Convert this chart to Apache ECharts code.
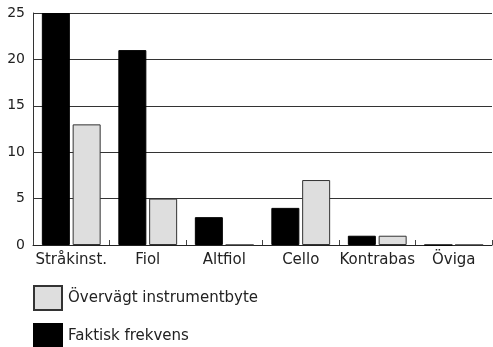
<!DOCTYPE html>
<html>
<head>
<meta charset="utf-8">
<script src="https://cdn.jsdelivr.net/npm/echarts@6/dist/echarts.min.js"></script>
<style>
  html, body { margin: 0; padding: 0; background: #fff; }
  #chart { width: 493px; height: 347px; }
</style>
</head>
<body>
<div id="chart"></div>
<script>
// Instrument groups along the x axis
const categories = ['Stråkinst.', 'Fiol', 'Altfiol', 'Cello', 'Kontrabas', 'Öviga'];
// Actual frequency (black bars)
const faktiskFrekvens = [25, 21, 3, 4, 1, 0];
// Considered switching instrument (light grey bars)
const overvagtByte = [13, 5, 0, 7, 1, 0];
// Value axis ticks
const yTicks = [0, 5, 10, 15, 20, 25];

const FONT = 'DejaVu Sans';
const chart = echarts.init(document.getElementById('chart'), null, { renderer: 'canvas' });

// One legend block per entry, stacked under the plot
const legendBase = {
  left: 33,
  itemWidth: 28,
  itemHeight: 24,
  icon: 'rect',
  padding: 0,
  textStyle: { fontFamily: FONT, fontSize: 15, color: '#222', padding: [0, 0, 0, 1] }
};

chart.setOption({
  animation: false,
  textStyle: { fontFamily: FONT },
  grid: { left: 33, right: 1, top: 13, bottom: 102, containLabel: false },
  legend: [
    Object.assign({}, legendBase, { top: 285, data: ['Övervägt instrumentbyte'] }),
    Object.assign({}, legendBase, { top: 323, data: ['Faktisk frekvens'] })
  ],
  xAxis: {
    type: 'category',
    data: categories,
    axisLine: { lineStyle: { color: '#222', width: 1 } },
    axisTick: { show: true, inside: true, length: 5, lineStyle: { color: '#444' } },
    axisLabel: { interval: 0, fontFamily: FONT, fontSize: 15, color: '#222', margin: 8 },
    splitLine: { show: false }
  },
  yAxis: {
    type: 'value',
    min: yTicks[0],
    max: yTicks[yTicks.length - 1],
    interval: 5,
    axisLine: { show: true, lineStyle: { color: '#333', width: 1 } },
    axisTick: { show: false },
    axisLabel: { fontFamily: FONT, fontSize: 14, color: '#222', margin: 8 },
    splitLine: { show: true, lineStyle: { color: '#333', width: 1 } }
  },
  series: [
    {
      name: 'Faktisk frekvens',
      type: 'bar',
      data: faktiskFrekvens,
      barWidth: 28,
      barGap: '10%',
      itemStyle: { color: '#000', borderColor: '#000', borderWidth: 1 }
    },
    {
      name: 'Övervägt instrumentbyte',
      type: 'bar',
      data: overvagtByte,
      barWidth: 28,
      itemStyle: { color: '#dedede', borderColor: '#333', borderWidth: 1 }
    }
  ]
});
</script>
</body>
</html>
